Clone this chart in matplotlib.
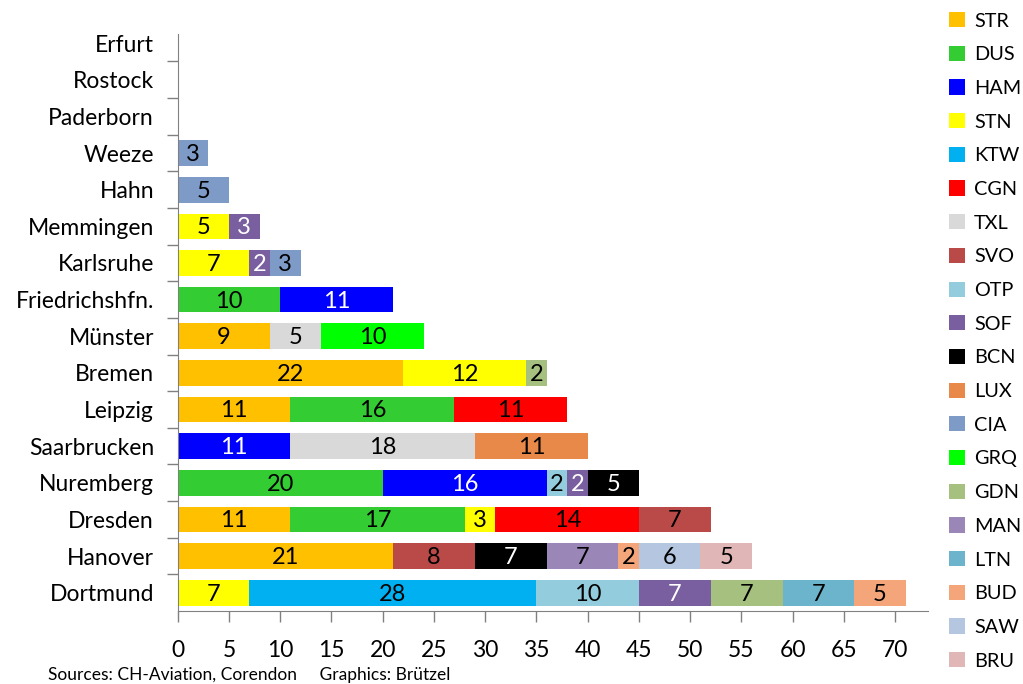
import numpy as np
import matplotlib
matplotlib.use("Agg")
import matplotlib.pyplot as plt
from matplotlib.patches import Patch

plt.rcParams['font.family'] = ['Lato', 'DejaVu Sans']

# Städte von oben nach unten
cities = ['Erfurt', 'Rostock', 'Paderborn', 'Weeze', 'Hahn', 'Memmingen', 'Karlsruhe',
          'Friedrichshfn.', 'Münster', 'Bremen', 'Leipzig', 'Saarbrucken', 'Nuremberg',
          'Dresden', 'Hanover', 'Dortmund']

airports = ['STR', 'DUS', 'HAM', 'STN', 'KTW', 'CGN', 'TXL', 'SVO', 'OTP', 'SOF',
            'BCN', 'LUX', 'CIA', 'GRQ', 'GDN', 'MAN', 'LTN', 'BUD', 'SAW', 'BRU']

colors = ['#FFC000', '#33CC33', '#0000FF', '#FFFF00', '#00B0F0', '#FF0000', '#D9D9D9',
          '#B94A48', '#93CDDD', '#7A5FA0', '#000000', '#E8894A', '#7E9BC8', '#00FF00',
          '#A6C080', '#9A87B8', '#6CB4CC', '#F4A57A', '#B4C6E0', '#E0B6B6']

white_text = {'HAM', 'SOF', 'BCN'}

#          Erf Ros Pad Wee Hah Mem Kar Fri Mün Bre Lei Saa Nur Dre Han Dor
STR = [0, 0, 0, 0, 0, 0, 0, 0, 9, 22, 11, 0, 0, 11, 21, 0]
DUS = [0, 0, 0, 0, 0, 0, 0, 10, 0, 0, 16, 0, 20, 17, 0, 0]
HAM = [0, 0, 0, 0, 0, 0, 0, 11, 0, 0, 0, 11, 16, 0, 0, 0]
STN = [0, 0, 0, 0, 0, 5, 7, 0, 0, 12, 0, 0, 0, 3, 0, 7]
KTW = [0, 0, 0, 0, 0, 0, 0, 0, 0, 0, 0, 0, 0, 0, 0, 28]
CGN = [0, 0, 0, 0, 0, 0, 0, 0, 0, 0, 11, 0, 0, 14, 0, 0]
TXL = [0, 0, 0, 0, 0, 0, 0, 0, 5, 0, 0, 18, 0, 0, 0, 0]
SVO = [0, 0, 0, 0, 0, 0, 0, 0, 0, 0, 0, 0, 0, 7, 8, 0]
OTP = [0, 0, 0, 0, 0, 0, 0, 0, 0, 0, 0, 0, 2, 0, 0, 10]
SOF = [0, 0, 0, 0, 0, 3, 2, 0, 0, 0, 0, 0, 2, 0, 0, 7]
BCN = [0, 0, 0, 0, 0, 0, 0, 0, 0, 0, 0, 0, 5, 0, 7, 0]
LUX = [0, 0, 0, 0, 0, 0, 0, 0, 0, 0, 0, 11, 0, 0, 0, 0]
CIA = [0, 0, 0, 3, 5, 0, 3, 0, 0, 0, 0, 0, 0, 0, 0, 0]
GRQ = [0, 0, 0, 0, 0, 0, 0, 0, 10, 0, 0, 0, 0, 0, 0, 0]
GDN = [0, 0, 0, 0, 0, 0, 0, 0, 0, 2, 0, 0, 0, 0, 0, 7]
MAN = [0, 0, 0, 0, 0, 0, 0, 0, 0, 0, 0, 0, 0, 0, 7, 0]
LTN = [0, 0, 0, 0, 0, 0, 0, 0, 0, 0, 0, 0, 0, 0, 0, 7]
BUD = [0, 0, 0, 0, 0, 0, 0, 0, 0, 0, 0, 0, 0, 0, 2, 5]
SAW = [0, 0, 0, 0, 0, 0, 0, 0, 0, 0, 0, 0, 0, 0, 6, 0]
BRU = [0, 0, 0, 0, 0, 0, 0, 0, 0, 0, 0, 0, 0, 0, 5, 0]

series = [STR, DUS, HAM, STN, KTW, CGN, TXL, SVO, OTP, SOF,
          BCN, LUX, CIA, GRQ, GDN, MAN, LTN, BUD, SAW, BRU]

fig = plt.figure(figsize=(10.23, 6.84), dpi=100)
ax = fig.add_axes([0.1737, 0.1067, 0.7335, 0.857])

y = np.arange(len(cities))
left = np.zeros(len(cities))
for name, vals, col in zip(airports, series, colors):
    vals = np.array(vals, dtype=float)
    ax.barh(y, vals, left=left, height=0.7, color=col, label=name)
    tc = 'white' if name in white_text else 'black'
    for yi, (l, v) in enumerate(zip(left, vals)):
        if v > 0:
            ax.text(l + v / 2, yi + 0.04, f'{int(v)}', ha='center', va='center',
                    fontsize=17, color=tc)
    left += vals

ax.set_ylim(len(cities) - 0.5, -0.5)
ax.set_xlim(0, 73.2)
ax.set_xticks(np.arange(0, 71, 5))
ax.set_yticks(y)
ax.set_yticklabels(cities)
ax.tick_params(axis='y', length=0, pad=17, labelsize=16.5)
ax.tick_params(axis='x', length=8, width=1, color='#808080', pad=13, labelsize=16.5)

# Excel-artige Trennstriche zwischen den Kategorien
ax.set_yticks(np.arange(0.5, len(cities) - 0.5, 1), minor=True)
ax.tick_params(axis='y', which='minor', length=8, width=1, color='#808080')

for s in ['top', 'right']:
    ax.spines[s].set_visible(False)
ax.spines['left'].set_color('#808080')
ax.spines['bottom'].set_color('#808080')
ax.spines['left'].set_bounds(len(cities) - 0.5, -0.25)

handles = [Patch(facecolor=c, edgecolor='none') for c in colors]
fig.legend(handles, airports, loc='upper left', bbox_to_anchor=(0.92, 0.994),
           frameon=False, fontsize=14.3, handlelength=0.8, handleheight=0.8,
           handletextpad=0.45, labelspacing=0.815, borderaxespad=0)

fig.text(0.047, 0.002, 'Sources: CH-Aviation, Corendon     Graphics: Brützel',
         fontsize=12.5, ha='left', va='bottom')

fig.savefig('out.png', dpi=100)
